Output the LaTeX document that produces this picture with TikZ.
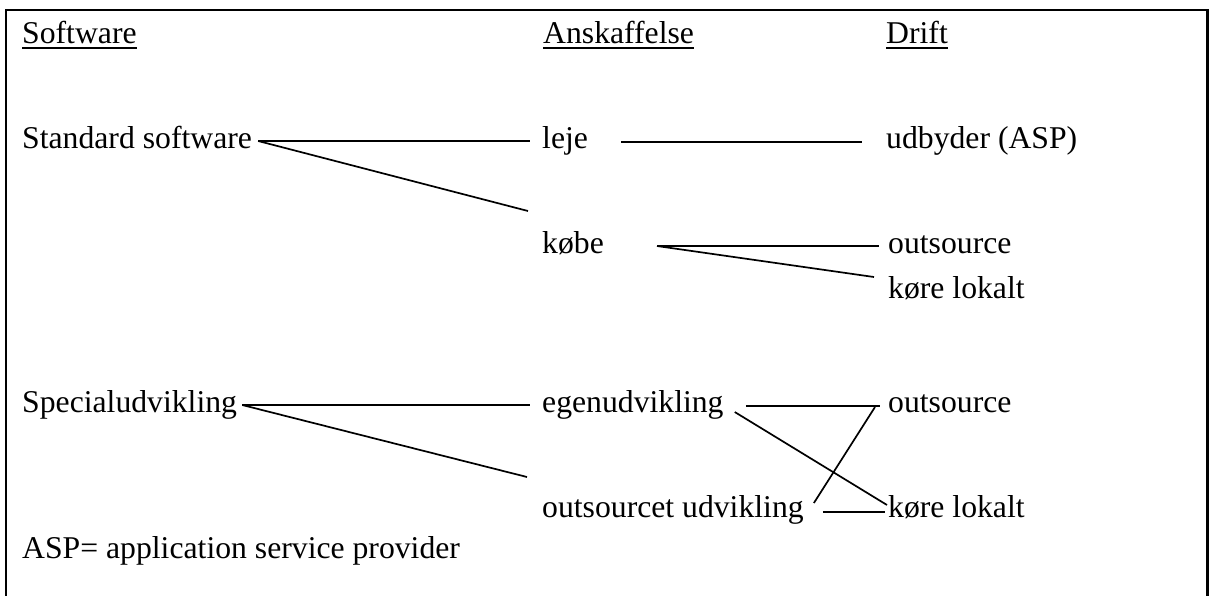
\documentclass[tikz,border=0pt]{standalone}
\usepackage{fontspec}
\setmainfont{Liberation Serif}
\usetikzlibrary{calc}
\begin{document}
\begin{tikzpicture}[x=1pt,y=-1pt,
  txt/.style={anchor=base west, inner sep=0pt, font=\fontsize{31.7}{38}\selectfont},
  conn/.style={line width=1.7pt},
  uline/.style={line width=1.8pt},
  frame/.style={line width=2.6pt}]
\useasboundingbox (0,0) rectangle (1209,595);
\draw[frame] (6,600) -- (6,10) -- (1207.5,10) -- (1207.5,600);
% headers
\node[txt] (swh) at (22,43) {Software};
\node[txt] (anh) at (543,43) {Anskaffelse};
\node[txt] (drh) at (886,43) {Drift};
\foreach \n in {swh,anh,drh}
  \draw[uline] ($(\n.base west)+(0,5)$) -- ($(\n.base east)+(0,5)$);
% nodes
\node[txt] (std) at (22,148) {Standard software};
\node[txt] (leje) at (542,148) {leje};
\node[txt] (udb) at (886,148) {udbyder (ASP)};
\node[txt] (kobe) at (542,253) {købe};
\node[txt] (out1) at (888,253) {outsource};
\node[txt] (kor1) at (888,298) {køre lokalt};
\node[txt] (spec) at (22,412) {Specialudvikling};
\node[txt] (egen) at (542,412) {egenudvikling};
\node[txt] (out2) at (888,412) {outsource};
\node[txt] (osu) at (542,517) {outsourcet udvikling};
\node[txt] (kor2) at (888,517) {køre lokalt};
\node[txt] (asp) at (22,558) {ASP= application service provider};
% connectors
\draw[conn] ($(std.base east)+(6,-7)$) -- ($(leje.base west)+(-12,-7)$);
\draw[conn] ($(std.base east)+(6,-7)$) -- ($(kobe.base west)+(-14,-42)$);
\draw[conn] ($(leje.base east)+(33,-6)$) -- ($(udb.base west)+(-24,-6)$);
\draw[conn] ($(kobe.base east)+(53,-7)$) -- ($(out1.base west)+(-9,-7)$);
\draw[conn] ($(kobe.base east)+(53,-7)$) -- ($(kor1.base west)+(-14,-21)$);
\draw[conn] ($(spec.base east)+(5,-7)$) -- ($(egen.base west)+(-12,-7)$);
\draw[conn] ($(spec.base east)+(5,-7)$) -- ($(osu.base west)+(-15,-40)$);
\draw[conn] ($(egen.base east)+(22,-6)$) -- ($(out2.base west)+(-8,-6)$);
\draw[conn] ($(egen.base east)+(11,0)$) -- ($(kor2.base west)+(-1,-12)$);
\draw[conn] ($(osu.base east)+(10,-14)$) -- ($(out2.base west)+(-13,-5)$);
\draw[conn] ($(osu.base east)+(19,-5)$) -- ($(kor2.base west)+(-3,-5)$);
\end{tikzpicture}
\end{document}
